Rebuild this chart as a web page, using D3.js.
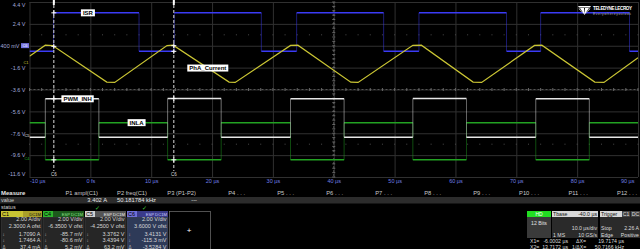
<html>
<head>
<style>
    body { margin: 0; background: #000; }
    svg { display: block; font-family: "Liberation Sans", Arial, sans-serif; }
    .grid line { stroke: #303030; }
    .grid .domain, .xaxis .domain, .yaxis .domain { display: none; }
    .xaxis text { fill: #6f7fe6; font-size: 5.5px; }
    .yaxis text { fill: #a3abdc; font-size: 5.5px; }
</style>
</head>
<body>
<div id="scope"></div>
<script src="https://d3js.org/d3.v7.min.js"></script>
<script>

// ---- data ----
let timeTicks = [-10, 0, 10, 20, 30, 40, 50, 60, 70, 80, 90]
let timeLabels = ["-10 µs", "0 fs", "10 µs", "20 µs", "30 µs", "40 µs", "50 µs", "60 µs", "70 µs", "80 µs", "90 µs"]
let voltTicks = [4.4, 2.4, 0.4, -1.6, -3.6, -5.6, -7.6, -9.6, -11.6]
let voltLabels = ["4.4 V", "2.4 V", "400 mV", "-1.6 V", "-3.6 V", "-5.6 V", "-7.6 V", "-9.6 V", "-11.6 V"]

// channel offsets (2 /div each)
let c1Offset = 2.3, c4Offset = -6.35, c5Offset = -4.25, c6Offset = 3.6

// C6 ISR, step signal: value holds from time i to time i+1
let isrTimes = [-10, -6.05, 8.0, 13.8, 28.1, 33.9, 48.2, 54.0, 68.4, 74.0, 88.6]
let isrValues = [-0.11, 3.41, -0.11, 3.41, -0.11, 3.41, -0.11, 3.41, -0.11, 3.41, -0.11]

// C5 PWM_INH
let pwmTimes = [-10, -7.4, 1.4, 12.7, 21.5, 32.9, 41.7, 53.0, 61.8, 73.2, 82.0]
let pwmValues = [-0.12, 3.40, -0.12, 3.42, -0.12, 3.41, -0.12, 3.42, -0.12, 3.40, -0.12]

// C4 INLA
let inlaTimes = [-10, -7.4, 1.4, 12.7, 21.5, 32.9, 41.7, 53.0, 61.8, 73.2, 82.0]
let inlaValues = [3.32, -0.08, 3.32, -0.08, 3.32, -0.08, 3.32, -0.08, 3.32, -0.08, 3.32]

// C1 PhA_Current, triangle
let curTimes = [-10, -7.4, -6.2, 2.7, 4.0, 12.6, 13.6, 22.8, 23.8, 32.9, 34.1, 42.8, 44.0, 53.0, 54.4, 62.9, 64.3, 73.0, 74.2, 82.9, 84.4, 90]
let curValues = [0.75, 1.75, 1.72, -1.62, -1.65, 1.72, 1.75, -1.62, -1.65, 1.73, 1.75, -1.63, -1.65, 1.74, 1.75, -1.62, -1.65, 1.73, 1.75, -1.62, -1.65, 0.6]

let cursorTimes = [-6.0002, 13.7172]

let traceNames = ["ISR", "PhA_Current", "PWM_INH", "INLA"]
let traceLabelTimes = [-0.4, 19.3, -2.1, 7.6]

let measHeads = ["P1 ampl(C1)", "P2 freq(C1)", "P3 (P1-P2)", "P4 . . .", "P5 . . .", "P6 . . .", "P7 . . .", "P8 . . .", "P9 . . .", "P10 . . .", "P11 . . .", "P12 . . ."]
let measValues = ["3.402 A", "50.181784 kHz", "---"]

let chanNames = ["C1", "C4", "C5", "C6"]
let chanTags = ["DC1M", "ESP DC1M", "ESP DC1M", "ESP DC1M"]
let chanDiv = ["2.00 A/div", "2.00 V/div", "2.00 V/div", "2.00 V/div"]
let chanOfst = ["2.3000 A ofst", "-6.3500 V ofst", "-4.2500 V ofst", "3.6000 V ofst"]
let chanX1 = ["1.7090 A", "-85.7 mV", "3.3762 V", "3.4131 V"]
let chanX2 = ["1.7464 A", "-80.6 mV", "3.4394 V", "-115.3 mV"]
let chanDelta = ["37.4 mA", "5.2 mV", "63.2 mV", "-3.5284 V"]

// ---- layout ----
let width = 640
let height = 249
let plot = {left: 29.5, right: 638, top: 2, bottom: 177}

let colors = {c1: "#c9c433", c4: "#22a222", c5: "#e6e6e6", c6: "#3b3bf5"}

let svg = d3.select("#scope")
    .append("svg")
    .attr("width", width)
    .attr("height", height)

svg.append("rect").attr("width", width).attr("height", height).attr("fill", "#000")

let x = d3.scaleLinear().domain([-10, 90]).range([plot.left, plot.right])

function chanScale(offset) {
    let c = -offset // screen centre
    return d3.scaleLinear().domain([c - 8, c + 8]).range([plot.bottom, plot.top])
}
let yC1 = chanScale(c1Offset)
let yC4 = chanScale(c4Offset)
let yC5 = chanScale(c5Offset)
let yC6 = chanScale(c6Offset)

// grid
svg.append("g")
    .attr("class", "grid")
    .attr("transform", `translate(0, ${plot.bottom})`)
    .call(d3.axisBottom(x).tickValues(timeTicks).tickSize(-(plot.bottom - plot.top)).tickFormat(""))

svg.append("g")
    .attr("class", "grid")
    .attr("transform", `translate(${plot.left}, 0)`)
    .call(d3.axisLeft(yC6).tickValues(voltTicks).tickSize(-(plot.right - plot.left)).tickFormat(""))

// centre cross + minor ticks
let midX = x(40), midY = yC6(-3.6)
svg.append("line").attr("x1", midX).attr("x2", midX).attr("y1", plot.top).attr("y2", plot.bottom)
    .attr("stroke", "#555").attr("stroke-dasharray", "2,2")
svg.append("line").attr("x1", plot.left).attr("x2", plot.right).attr("y1", midY).attr("y2", midY)
    .attr("stroke", "#555").attr("stroke-dasharray", "2,2")

let minorT = d3.range(-10, 90.01, 2)
let minorV = d3.range(-11.6, 4.41, 0.4)
svg.append("g").selectAll("line").data(minorT).join("line")
    .attr("x1", d => x(d)).attr("x2", d => x(d))
    .attr("y1", midY - 1.5).attr("y2", midY + 1.5).attr("stroke", "#666")
svg.append("g").selectAll("line").data(minorV).join("line")
    .attr("x1", midX - 1.5).attr("x2", midX + 1.5)
    .attr("y1", d => yC6(d)).attr("y2", d => yC6(d)).attr("stroke", "#666")
// dotted rows
;[1.4, -8.6].forEach(v => {
    svg.append("g").selectAll("rect").data(minorT).join("rect")
        .attr("x", d => x(d) - 0.5).attr("y", yC6(v) - 0.5)
        .attr("width", 1).attr("height", 1).attr("fill", "#4a4a4a")
})

// axes labels
let xAxis = svg.append("g")
    .attr("class", "xaxis")
    .attr("transform", `translate(0, ${plot.bottom})`)
    .call(d3.axisBottom(x).tickValues(timeTicks).tickSize(0).tickPadding(2).tickFormat((d, i) => timeLabels[i]))
xAxis.selectAll("text")
    .attr("text-anchor", (d, i) => i == 0 ? "start" : (i == timeTicks.length - 1 ? "end" : "middle"))
    .attr("dx", (d, i) => i == timeTicks.length - 1 ? -4 : 0)

let yAxis = svg.append("g")
    .attr("class", "yaxis")
    .attr("transform", `translate(${plot.left}, 0)`)
    .call(d3.axisLeft(yC6).tickValues(voltTicks).tickSize(0).tickPadding(4).tickFormat((d, i) => voltLabels[i]))
yAxis.selectAll("text")
    .attr("dx", (d, i) => i == 2 ? -6 : 0)
    .attr("y", (d, i) => i == 0 ? 3 : (i == voltTicks.length - 1 ? -3 : 0))

// channel ground markers
svg.append("rect").attr("x", 21).attr("y", yC6(0) - 7).attr("width", 8).attr("height", 5).attr("fill", "#7474e0")
svg.append("text").text("C6").attr("x", 25).attr("y", yC6(0) - 3).attr("text-anchor", "middle")
    .attr("font-size", 4).attr("fill", "#fff")
svg.append("text").text("C1").attr("x", 26).attr("y", yC1(0)).attr("text-anchor", "middle")
    .attr("font-size", 4).attr("fill", colors.c1)
svg.append("text").text("C5").attr("x", 27).attr("y", yC5(0) + 1).attr("text-anchor", "middle")
    .attr("font-size", 4).attr("fill", colors.c5)
svg.append("text").text("C4").attr("x", 27).attr("y", yC4(0) + 1).attr("text-anchor", "middle")
    .attr("font-size", 4).attr("fill", colors.c4)

// traces
svg.append("clipPath").attr("id", "clip").append("rect")
    .attr("x", plot.left).attr("y", plot.top)
    .attr("width", plot.right - plot.left).attr("height", plot.bottom - plot.top)

let traces = svg.append("g").attr("clip-path", "url(#clip)")

// step trace: thin dim edges, thicker levels on top
function drawStep(times, values, y, color) {
    let ends = times.slice(1).concat([90])
    let g = traces.append("g")
    g.selectAll(".edge").data(times.slice(1)).join("line")
        .attr("class", "edge")
        .attr("x1", d => x(d)).attr("x2", d => x(d))
        .attr("y1", (d, i) => y(values[i])).attr("y2", (d, i) => y(values[i + 1]))
        .attr("stroke", color).attr("stroke-width", 0.8).attr("opacity", 0.6)
    g.selectAll(".level").data(values).join("line")
        .attr("class", "level")
        .attr("x1", (d, i) => x(times[i])).attr("x2", (d, i) => x(ends[i]))
        .attr("y1", d => y(d)).attr("y2", d => y(d))
        .attr("stroke", color).attr("stroke-width", 1.5)
}

drawStep(inlaTimes, inlaValues, yC4, colors.c4)
drawStep(pwmTimes, pwmValues, yC5, colors.c5)
drawStep(isrTimes, isrValues, yC6, colors.c6)
traces.append("path")
    .attr("d", d3.line().x((d, i) => x(curTimes[i])).y(d => yC1(d))(curValues))
    .attr("fill", "none").attr("stroke", colors.c1).attr("stroke-width", 1.2)

function stepAt(times, values, t) {
    let i = d3.bisectRight(times, t) - 1
    return values[Math.max(0, i)]
}
let curAt = d3.scaleLinear().domain(curTimes).range(curValues)

// cursors
cursorTimes.forEach(t => {
    let cx = x(t)
    svg.append("line").attr("x1", cx).attr("x2", cx).attr("y1", 0).attr("y2", 171)
        .attr("stroke", "#ddd").attr("stroke-dasharray", "3,2")
    svg.append("line").attr("x1", cx).attr("x2", cx).attr("y1", 0).attr("y2", 5)
        .attr("stroke", "#fff").attr("stroke-width", 2)
    svg.append("text").text("C6").attr("x", cx).attr("y", 176).attr("text-anchor", "middle")
        .attr("font-size", 4.5).attr("fill", "#ddd")
    let ys = [yC6(stepAt(isrTimes, isrValues, t)), yC1(curAt(t)),
              yC5(stepAt(pwmTimes, pwmValues, t)), yC4(stepAt(inlaTimes, inlaValues, t))]
    ys.forEach(cy => {
        svg.append("path").attr("d", `M${cx - 2.5},${cy}H${cx + 2.5}M${cx},${cy - 2.5}V${cy + 2.5}`)
            .attr("stroke", "#fff").attr("stroke-width", 1)
    })
})

// trace name tags sitting on each trace
let tagY = [
    t => yC6(stepAt(isrTimes, isrValues, t)),
    t => yC1(curAt(t)),
    t => yC5(stepAt(pwmTimes, pwmValues, t)),
    t => yC4(stepAt(inlaTimes, inlaValues, t))
]
traceNames.forEach((name, i) => {
    let t = traceLabelTimes[i]
    let g = svg.append("g").attr("transform", `translate(${x(t)}, ${tagY[i](t)})`)
    let rect = g.append("rect").attr("fill", "#fff")
    let txt = g.append("text").text(name).attr("text-anchor", "middle").attr("dy", "0.35em")
        .attr("font-size", 6).attr("font-weight", "bold").attr("fill", "#000")
    let w = txt.node().getComputedTextLength() + 4
    rect.attr("x", -w / 2).attr("y", -3.5).attr("width", w).attr("height", 7)
})

// logo
let logo = svg.append("g").attr("transform", "translate(578, 4)")
logo.append("path")
    .attr("d", "M0,2 L13,2 L12,3.5 L1,3.5 Z M2,4 L6,4 L6.5,11 Z M11,4 L7,4 L6.5,11 Z M0.5,4.5 L1.5,4.5 L5.5,10 Z M12.5,4.5 L11.5,4.5 L7.5,10 Z")
    .attr("fill", "#fff")
logo.append("text").text("TELEDYNE LECROY").attr("x", 15).attr("y", 6)
    .attr("font-size", 4.6).attr("font-weight", "bold").attr("fill", "#fff").attr("textLength", 39)
logo.append("text").text("Everywhereyoulook").attr("x", 15).attr("y", 10.5)
    .attr("font-size", 3.4).attr("fill", "#aaa").attr("textLength", 38)

// ---- measure table ----
svg.append("rect").attr("x", 0).attr("y", 197).attr("width", width).attr("height", 6.5).attr("fill", "#2c2c2c")
svg.append("text").text("Measure").attr("x", 1).attr("y", 194.5)
    .attr("font-size", 6).attr("font-weight", "bold").attr("fill", "#e6e6e6")
svg.append("g").selectAll("text").data(measHeads).join("text")
    .text(d => d)
    .attr("x", (d, i) => 98 + 49 * i).attr("y", 194.5).attr("text-anchor", "end")
    .attr("font-size", 5.8).attr("fill", "#c8c8c8")
svg.append("text").text("value").attr("x", 1).attr("y", 202.3).attr("font-size", 5.5).attr("fill", "#d0d0d0")
svg.append("text").text("status").attr("x", 1).attr("y", 209.3).attr("font-size", 5.5).attr("fill", "#d0d0d0")
svg.append("g").selectAll("text").data(measValues).join("text")
    .text(d => d)
    .attr("x", (d, i) => [107, 156, 197][i]).attr("y", 202.3).attr("text-anchor", "end")
    .attr("font-size", 5.8).attr("fill", "#e6e6e6")
;[97, 144].forEach(cx => {
    svg.append("text").text("✓").attr("x", cx).attr("y", 209.5).attr("text-anchor", "middle")
        .attr("font-size", 5.5).attr("fill", "#3ecf3e")
})

// channel boxes
let chanFill = [colors.c1, "#2db52d", "#d0d0d0", "#7070d8"]
let tagFill = ["#a8a02a", "#1c5a1c", "#555", "#3a3a8a"]
let tagText = ["#111", "#8fe08f", "#eee", "#ccccff"]
let bodyFill = ["#262626", "#262626", "#262626", "#2e3a58"]
let headW = [22, 10, 10, 10]

chanNames.forEach((name, i) => {
    let bx = 1 + i * 42, bw = 41
    let g = svg.append("g").attr("transform", `translate(${bx}, 211)`)
    g.append("rect").attr("y", 6).attr("width", bw).attr("height", 33)
        .attr("fill", bodyFill[i]).attr("stroke", "#4a4a4a").attr("stroke-width", 0.5)
    g.append("rect").attr("width", headW[i]).attr("height", 6).attr("fill", chanFill[i])
    g.append("rect").attr("x", headW[i]).attr("width", bw - headW[i]).attr("height", 6).attr("fill", tagFill[i])
    g.append("text").text(name).attr("x", 1).attr("y", 5).attr("font-size", 5.5).attr("fill", "#000")
    g.append("text").text(chanTags[i]).attr("x", bw - 1).attr("y", 4.8).attr("text-anchor", "end")
        .attr("font-size", 4.2).attr("fill", tagText[i])
    let rows = [chanDiv[i], chanOfst[i], chanX1[i], chanX2[i], chanDelta[i]]
    let rowY = [10.3, 17, 25, 31, 37.6]
    rows.forEach((r, j) => {
        g.append("text").text(r).attr("x", bw - 1.5).attr("y", rowY[j]).attr("text-anchor", "end")
            .attr("font-size", 5.5).attr("fill", "#d8d8d8")
    })
    ;["↕", "↕", "Δ"].forEach((s, j) => {
        g.append("text").text(s).attr("x", 1.5).attr("y", rowY[j + 2]).attr("font-size", 4.5).attr("fill", "#bbb")
    })
})

// empty "+" box
svg.append("rect").attr("x", 169.5).attr("y", 211.5).attr("width", 41).attr("height", 38)
    .attr("fill", "#000").attr("stroke", "#888").attr("stroke-width", 0.6)
svg.append("text").text("+").attr("x", 189).attr("y", 232.5).attr("text-anchor", "middle")
    .attr("font-size", 8).attr("fill", "#fff")

// ---- timebase / trigger ----
svg.append("rect").attr("x", 527).attr("y", 211).attr("width", 24).attr("height", 6).attr("fill", "#22dd22")
svg.append("text").text("HD").attr("x", 539).attr("y", 215.8).attr("text-anchor", "middle")
    .attr("font-size", 5).attr("fill", "#fff")
svg.append("rect").attr("x", 527).attr("y", 217).attr("width", 24).attr("height", 21).attr("fill", "#3a3a3a")
svg.append("text").text("12 Bits").attr("x", 539).attr("y", 225).attr("text-anchor", "middle")
    .attr("font-size", 5.2).attr("fill", "#e0e0e0")

svg.append("rect").attr("x", 552).attr("y", 211).attr("width", 46).attr("height", 6).attr("fill", "#d8d8d8")
svg.append("rect").attr("x", 552).attr("y", 217).attr("width", 46).attr("height", 21).attr("fill", "#2a2a2a")
svg.append("rect").attr("x", 600).attr("y", 211).attr("width", 22).attr("height", 6).attr("fill", "#d8d8d8")
svg.append("rect").attr("x", 622).attr("y", 211).attr("width", 8.5).attr("height", 6).attr("fill", "#444")
svg.append("rect").attr("x", 631).attr("y", 211).attr("width", 9).attr("height", 6).attr("fill", "#444")
svg.append("rect").attr("x", 600).attr("y", 217).attr("width", 40).attr("height", 21).attr("fill", "#2a2a2a")

let small = [
    ["Tbase", 553, 215.8, "start", "#111"], ["-40.0 µs", 597, 215.8, "end", "#111"],
    ["10.0 µs/div", 597, 229.5, "end", "#ddd"], ["1 MS", 553, 236.5, "start", "#ddd"], ["10 GS/s", 597, 236.5, "end", "#ddd"],
    ["Trigger", 601, 215.8, "start", "#111"], ["C1", 626, 215.5, "middle", "#ddd"], ["DC", 635.5, 215.5, "middle", "#ddd"],
    ["Stop", 601, 229.5, "start", "#ddd"], ["2.26 A", 639, 229.5, "end", "#ddd"],
    ["Edge", 601, 236.5, "start", "#ddd"], ["Positive", 639, 236.5, "end", "#ddd"],
    ["X1=", 530, 243, "start", "#ddd"], ["-6.0002 µs", 568, 243, "end", "#ddd"],
    ["ΔX=", 576, 243, "start", "#ddd"], ["19.7174 µs", 624, 243, "end", "#ddd"],
    ["X2=", 530, 248.5, "start", "#ddd"], ["13.7172 µs", 568, 248.5, "end", "#ddd"],
    ["1/ΔX=", 572, 248.5, "start", "#ddd"], ["50.7166 kHz", 624, 248.5, "end", "#ddd"]
]
svg.append("g").selectAll("text").data(small).join("text")
    .text(d => d[0]).attr("x", d => d[1]).attr("y", d => d[2])
    .attr("text-anchor", d => d[3]).attr("fill", d => d[4])
    .attr("font-size", 5.2)

</script>
</body>
</html>
